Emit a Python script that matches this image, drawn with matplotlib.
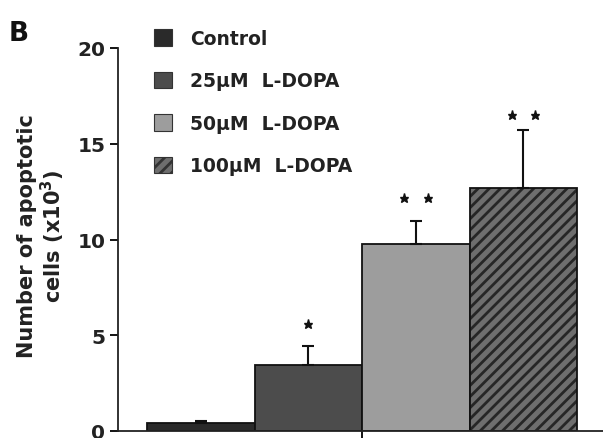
import matplotlib
matplotlib.use("Agg")
import matplotlib.pyplot as plt
from matplotlib.patches import Patch

plt.rcParams['font.family'] = ['DejaVu Sans']
plt.rcParams['mathtext.fontset'] = 'dejavusans'
plt.rcParams['hatch.linewidth'] = 2.0

##data
groups = ['Control', '25\u00b5M  L-DOPA', '50\u00b5M  L-DOPA', '100\u00b5M  L-DOPA']
means = [0.4, 3.47, 9.74, 12.7]
errors = [0.13, 0.98, 1.2, 3.0]
star_counts = [0, 1, 2, 2]
star_heights = [0, 5.6, 12.15, 16.5]
yticks = [0, 5, 10, 15, 20]

face_colors = ['#2a2a2a', '#4c4c4c', '#9d9d9d', '#6e6e6e']
hatches = [None, None, None, '///']

fig = plt.figure(figsize=(6.03, 4.39), dpi=100)
ax = fig.add_axes([118/603, 1 - 432/439, 1 - 118/603, (432 - 49)/439])

x = list(range(len(groups)))
bars = ax.bar(x, means, width=1.0, color=face_colors, edgecolor='#111111', linewidth=1.3, zorder=2)
for b, h in zip(bars, hatches):
    if h:
        b.set_hatch(h)
        b._hatch_color = (0.15, 0.15, 0.15, 1.0)

##one-sided (upper) error bars
ax.errorbar(x, means, yerr=[[0]*len(x), errors], fmt='none', ecolor='#111111',
            elinewidth=1.5, capsize=4.5, capthick=1.5, zorder=3)

##significance stars
for xi, n, h in zip(x, star_counts, star_heights):
    if n == 1:
        ax.plot([xi], [h], marker='*', ms=6.5, color='#111111', ls='none')
    elif n == 2:
        ax.plot([xi - 0.11, xi + 0.11], [h, h], marker='*', ms=6.5, color='#111111', ls='none')

ax.set_xlim(-0.77, 3.74)
ax.set_ylim(0, 20)
ax.set_yticks(yticks)
ax.set_yticklabels([str(t) for t in yticks], fontsize=14.5, fontweight='bold', color='#222222')
ax.set_xticks([1.5])
ax.set_xticklabels([''])
ax.tick_params(axis='y', direction='out', length=6, width=1.3, pad=3)
ax.tick_params(axis='x', direction='out', length=9, width=1.3)
for s in ['top', 'right']:
    ax.spines[s].set_visible(False)
for s in ['left', 'bottom']:
    ax.spines[s].set_linewidth(1.3)
    ax.spines[s].set_color('#222222')
ax.spines['bottom'].set_zorder(4)

fig.text(0.07, 0.462, 'Number of apoptotic\ncells (x10$^{\\mathbf{3}}$)', rotation=90,
         ha='center', va='center', fontsize=15, fontweight='bold', color='#222222',
         linespacing=1.1)
fig.text(9/603, 1 - 34/439, 'B', fontsize=19, fontweight='bold',
         va='center', ha='left', color='#111111')

handles = [Patch(facecolor=c, edgecolor='#333333', hatch=h, linewidth=0.8)
           for c, h in zip(face_colors, hatches)]
leg = ax.legend(handles, groups, loc='upper left', bbox_to_anchor=(154/603, 1 - 30/439),
                bbox_transform=fig.transFigure, frameon=False, prop={'size': 13.5, 'weight': 'bold'},
                handlelength=0.96, handleheight=0.96, handletextpad=0.95, labelspacing=1.25,
                borderpad=0, borderaxespad=0)
for t in leg.get_texts():
    t.set_color('#222222')

plt.savefig('out.png', dpi=100)
